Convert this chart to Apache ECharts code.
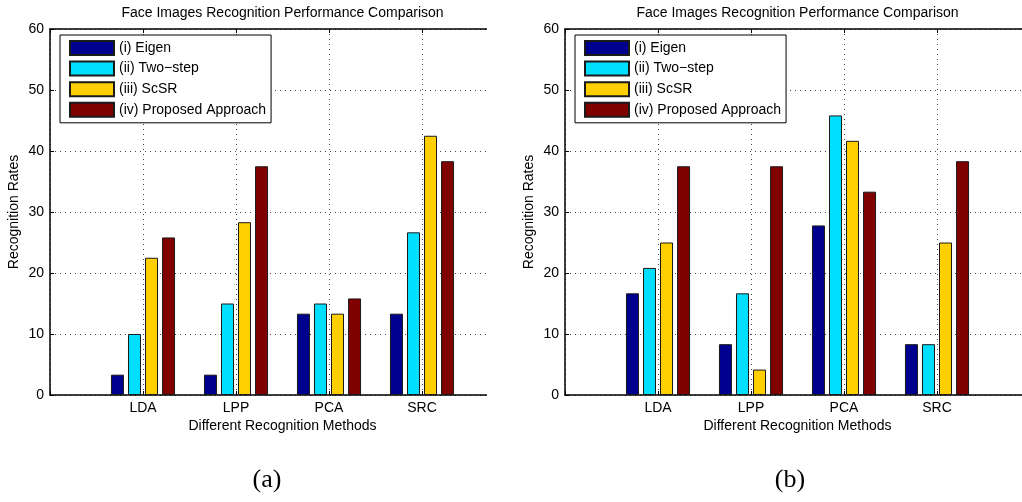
<!DOCTYPE html>
<html>
<head>
<meta charset="utf-8">
<script src="https://cdn.jsdelivr.net/npm/echarts@6/dist/echarts.min.js"></script>
<style>
  html, body { margin: 0; padding: 0; background: #fff; width: 1022px; height: 502px; overflow: hidden; }
  .panel { position: absolute; top: 0; height: 502px; overflow: hidden; }
  #pa { left: 0; width: 487px; }
  #pb { left: 511px; width: 511px; }
</style>
</head>
<body>
<div id="pa" class="panel"></div>
<div id="pb" class="panel"></div>
<script>
// Recognition methods along the x axis
const methods = ['LDA', 'LPP', 'PCA', 'SRC'];
const seriesNames = ['(i) Eigen', '(ii) Two\u2212step', '(iii) ScSR', '(iv) Proposed Approach'];

// Panel (a) recognition rates
const eigenA    = [3.33, 3.33, 13.33, 13.33];
const twoStepA  = [10, 15, 15, 26.67];
const scsrA     = [22.5, 28.33, 13.33, 42.5];
const proposedA = [25.83, 37.5, 15.83, 38.33];

// Panel (b) recognition rates
const eigenB    = [16.67, 8.33, 27.8, 8.33];
const twoStepB  = [20.83, 16.67, 45.83, 8.33];
const scsrB     = [25, 4.17, 41.67, 25];
const proposedB = [37.5, 37.5, 33.33, 38.33];

const yMin = 0, yMax = 60, yStep = 10;

const colors = ['#00008F', '#00DFFF', '#FFCF00', '#800000'];
const FONT = '"Liberation Sans", Arial, Helvetica, sans-serif';

// Empty slots at both ends give the axis its margin before LDA and after SRC
const cats = [''].concat(methods, ['']);
const pad = arr => [null].concat(arr, [null]);

function makeOption(groups, gridLeft, caption, captionX) {
  const dotted = { type: [1, 4], color: '#444', width: 1 };
  return {
    animation: false,
    backgroundColor: '#fff',
    title: {
      text: 'Face Images Recognition Performance Comparison',
      left: gridLeft + 232.5, top: 6, padding: 0, textAlign: 'center',
      textStyle: { fontSize: 14, fontWeight: 'normal', color: '#000', fontFamily: FONT }
    },
    legend: {
      orient: 'vertical', left: gridLeft + 10, top: 35,
      padding: [5, 5, 5, 9], itemWidth: 44, itemHeight: 14, itemGap: 4.6,
      icon: 'rect', borderColor: '#000', borderWidth: 1, backgroundColor: '#fff',
      textStyle: { fontSize: 14, color: '#000', fontFamily: FONT },
      data: seriesNames
    },
    grid: { left: gridLeft, top: 29, width: 465, height: 366, containLabel: false, outerBoundsMode: 'none' },
    xAxis: [{
      type: 'category', data: cats, boundaryGap: false, position: 'bottom',
      name: 'Different Recognition Methods', nameLocation: 'middle', nameGap: 24,
      nameMoveOverlap: false,
      nameTextStyle: { fontSize: 14, color: '#000', fontFamily: FONT },
      axisLine: { lineStyle: { color: '#000', width: 1.5 } },
      axisTick: { inside: true, length: 4, lineStyle: { color: '#000' } },
      axisLabel: { interval: 0, fontSize: 14, color: '#000', fontFamily: FONT, margin: 6 },
      splitLine: { show: true, interval: 0, lineStyle: dotted }
    }, {
      type: 'category', data: cats, boundaryGap: false, position: 'top',
      axisLine: { lineStyle: { color: '#000', width: 1.5 } },
      axisTick: { inside: true, length: 4, lineStyle: { color: '#000' } },
      axisLabel: { show: false }, splitLine: { show: false }
    }],
    yAxis: {
      type: 'value', min: yMin, max: yMax, interval: yStep,
      name: 'Recognition Rates', nameLocation: 'middle', nameGap: 29,
      nameMoveOverlap: false,
      nameTextStyle: { fontSize: 14, color: '#000', fontFamily: FONT },
      axisLine: { show: true, lineStyle: { color: '#000', width: 1.5 } },
      axisTick: { show: true, inside: true, length: 4, lineStyle: { color: '#000' } },
      axisLabel: { fontSize: 14, color: '#000', fontFamily: FONT, margin: 6 },
      splitLine: { show: true, lineStyle: dotted }
    },
    series: groups.map((vals, i) => ({
      name: seriesNames[i], type: 'bar', xAxisIndex: 0,
      data: pad(vals), barWidth: 13, barGap: '31%',
      itemStyle: { color: colors[i], borderColor: '#1a1a1a', borderWidth: 1 }
    })),
    graphic: [{
      type: 'text', x: captionX, y: 480,
      style: { text: caption, font: '26px "Liberation Serif", "DejaVu Serif", serif',
               fill: '#000', align: 'center', verticalAlign: 'middle' }
    }]
  };
}

const chartA = echarts.init(document.getElementById('pa'), null, { renderer: 'canvas' });
chartA.setOption(makeOption([eigenA, twoStepA, scsrA, proposedA], 50, '(a)', 267));

const chartB = echarts.init(document.getElementById('pb'), null, { renderer: 'canvas' });
chartB.setOption(makeOption([eigenB, twoStepB, scsrB, proposedB], 54, '(b)', 279));
</script>
</body>
</html>
